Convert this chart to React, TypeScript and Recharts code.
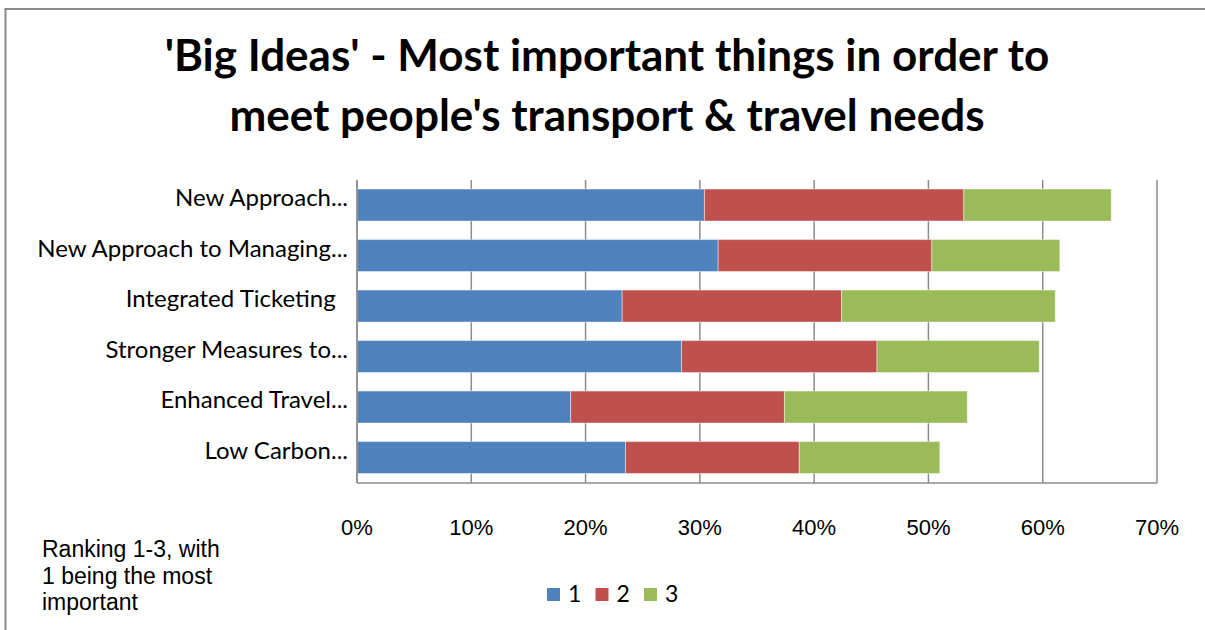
import { Bar, BarChart, CartesianGrid, XAxis, YAxis } from "recharts";

const categories = [
  "New Approach...",
  "New Approach to Managing...",
  "Integrated Ticketing  ",
  "Stronger Measures to...",
  "Enhanced Travel...",
  "Low Carbon...",
];
const rank1 = [30.4, 31.6, 23.2, 28.4, 18.7, 23.5];
const rank2 = [22.7, 18.7, 19.2, 17.1, 18.7, 15.2];
const rank3 = [12.9, 11.2, 18.7, 14.2, 16.0, 12.3];
const seriesNames = ["1", "2", "3"];
const percentTicks = [0, 10, 20, 30, 40, 50, 60, 70];
const titleLines = [
  "'Big Ideas' - Most important things in order to",
  "meet people's transport & travel needs",
];
const noteLines = ["Ranking 1-3, with", "1 being the most", "important"];

const palette = ["#4F81BD", "#C0504D", "#9BBB59"];
const gridColor = "#8c8c8c";
const labelFont = "Lato, 'Noto Sans', sans-serif";
const axisFont = "'Liberation Sans', Arial, sans-serif";

const rows = categories.map((name, i) => ({
  name,
  r1: rank1[i],
  r2: rank2[i],
  r3: rank3[i],
}));
const seriesKeys = ["r1", "r2", "r3"];

function CategoryTick({ x, y, payload }: any) {
  return (
    <text
      x={x}
      y={y}
      dy={1}
      textAnchor="end"
      xmlSpace="preserve"
      style={{ whiteSpace: "pre" }}
      fontFamily={labelFont}
      fontSize={24}
      fill="#000"
    >
      {payload.value}
    </text>
  );
}

function PercentTick({ x, y, payload }: any) {
  return (
    <text
      x={x}
      y={y + 50}
      textAnchor="middle"
      fontFamily={axisFont}
      fontSize={22}
      fill="#000"
    >
      {payload.value}%
    </text>
  );
}

export default function App() {
  return (
    <div
      style={{
        position: "absolute",
        left: 0,
        top: 0,
        width: 1205,
        height: 630,
        background: "#fff",
      }}
    >
      <BarChart
        width={1205}
        height={630}
        data={rows}
        layout="vertical"
        barCategoryGap="18%"
        margin={{ top: 180, right: 48, bottom: 87, left: 0 }}
      >
        <CartesianGrid
          horizontal={false}
          stroke={gridColor}
          strokeWidth={1.5}
        />
        <XAxis
          type="number"
          domain={[0, 70]}
          ticks={percentTicks}
          height={60}
          axisLine={{ stroke: gridColor, strokeWidth: 1.5 }}
          tickLine={false}
          tickSize={0}
          tick={<PercentTick />}
          interval={0}
        />
        <YAxis
          type="category"
          dataKey="name"
          width={357}
          axisLine={{ stroke: gridColor, strokeWidth: 1.5 }}
          tickLine={false}
          tickSize={0}
          tickMargin={9}
          tick={<CategoryTick />}
          interval={0}
        />
        {seriesKeys.map((key, i) => (
          <Bar
            key={key}
            dataKey={key}
            name={seriesNames[i]}
            stackId="rank"
            fill={palette[i]}
            stroke="rgba(255,255,255,0.45)"
            strokeWidth={1}
            isAnimationActive={false}
          />
        ))}
      </BarChart>

      <svg
        width={1205}
        height={630}
        style={{ position: "absolute", left: 0, top: 0, pointerEvents: "none" }}
      >
        <line x1={5.5} y1={9} x2={5.5} y2={630} stroke="#8a8a8a" strokeWidth={2} />
        <line x1={4.5} y1={9} x2={1205} y2={9} stroke="#8a8a8a" strokeWidth={2} />

        {titleLines.map((line, i) => (
          <text
            key={line}
            x={607}
            y={71 + i * 60}
            textAnchor="middle"
            fontFamily={labelFont}
            fontWeight={700}
            fontSize={44}
            fill="#000"
          >
            {line}
          </text>
        ))}

        {noteLines.map((line, i) => (
          <text
            key={line}
            x={42}
            y={557 + i * 26.5}
            fontFamily={axisFont}
            fontSize={23}
            fill="#000"
          >
            {line}
          </text>
        ))}

        {seriesNames.map((name, i) => (
          <g key={name}>
            <rect
              x={547 + i * 48.5}
              y={588}
              width={13}
              height={13}
              fill={palette[i]}
            />
            <text
              x={568 + i * 48.5}
              y={602}
              fontFamily={labelFont}
              fontSize={23}
              fill="#000"
            >
              {name}
            </text>
          </g>
        ))}
      </svg>
    </div>
  );
}
